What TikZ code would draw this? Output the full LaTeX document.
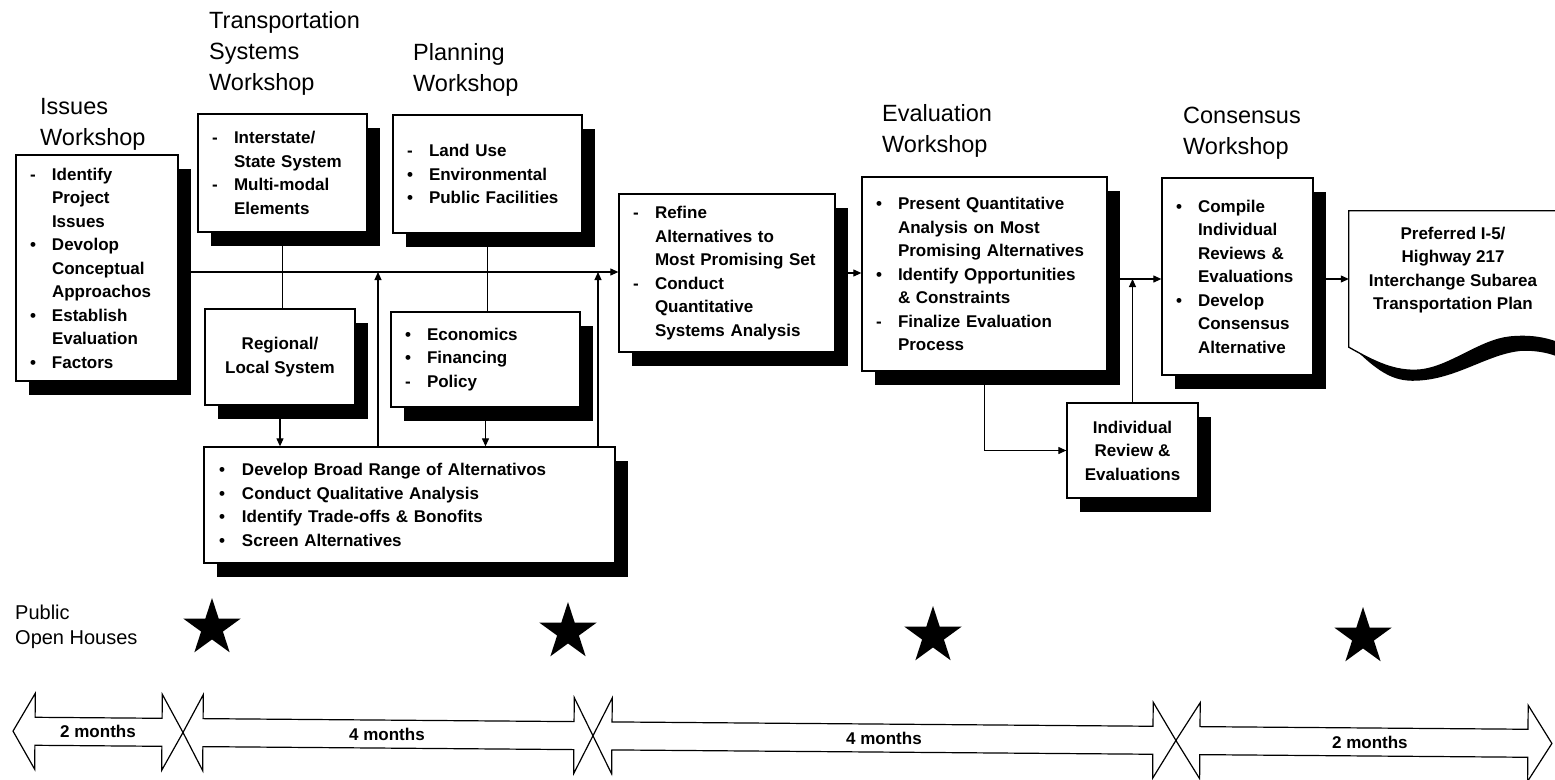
\documentclass[tikz,border=0pt]{standalone}
\usepackage{fontspec}
\setmainfont{Liberation Sans}
\usetikzlibrary{arrows.meta,shapes.geometric,shadows}
\newcommand\bul[1]{\makebox[22pt][l]{#1}}
\newcommand\bulw[1]{\makebox[23pt][l]{#1}}
\newcommand\indt{\hspace*{22pt}}
\newcommand\boxfont{\bfseries\fontsize{17}{23.5}\selectfont}
\newcommand\ttlfont{\fontsize{23.5}{31}\selectfont}
\newcommand\pubfont{\fontsize{20}{25}\selectfont}
\begin{document}
\begin{tikzpicture}[x=1pt,y=-1pt,
  box/.style={draw, line width=1.3pt, fill=white, inner sep=0pt, font=\boxfont,
    general shadow={fill=black, shadow xshift=13pt, shadow yshift=-14pt}},
  blist/.style={align=left},
  ctr/.style={align=center},
  ttl/.style={anchor=north west, inner sep=0pt, align=left, font=\ttlfont},
  conn/.style={line width=1.1pt},
  arr/.style={conn, -{Triangle[length=8pt,width=7pt]}},
  tl/.style={draw, line width=1.2pt, fill=white, line join=miter},
  tltext/.style={font=\boxfont, inner sep=0pt},
  star5/.style={star, star points=5, star point ratio=2.618, fill=black, draw=none, inner sep=0pt, minimum size=60pt},
]
\useasboundingbox (0,0) rectangle (1555,779);

% ---------- titles ----------
\node[ttl] (t1) at (40,98.6) {Issues\\Workshop};
\node[ttl] (t2) at (209,11.6) {Transportation\\Systems\\Workshop};
\node[ttl] (t3) at (413,43.6) {Planning\\Workshop};
\node[ttl] (t4) at (882,104.6) {Evaluation\\Workshop};
\node[ttl] (t5) at (1183,106.6) {Consensus\\Workshop};

% ---------- boxes ----------
\node[box, blist, minimum width=162, minimum height=226, text width=134] (issues) at (97,268)
 {\bul{-}Identify\\\indt Project\\\indt Issues\\\bul{•}Devolop\\\indt Conceptual\\\indt Approachos\\\bul{•}Establish\\\indt Evaluation\\\bul{•}Factors};
\node[box, blist, minimum width=169, minimum height=118, text width=141] (ts) at (282.5,173)
 {\bul{-}Interstate/\\\indt State System\\\bul{-}Multi-modal\\\indt Elements};
\node[box, blist, minimum width=189, minimum height=118, text width=161] (plan) at (487.5,174)
 {\bul{-}Land Use\\\bul{•}Environmental\\\bul{•}Public Facilities};
\node[box, ctr, minimum width=150, minimum height=96] (regional) at (280,357)
 {Regional/\\Local System};
\node[box, blist, minimum width=189, minimum height=95, text width=161] (econ) at (485.5,359.5)
 {\bul{•}Economics\\\bul{•}Financing\\\bul{-}Policy};
\node[box, blist, minimum width=411, minimum height=116, text width=381] (bottom) at (409.5,505)
 {\bulw{•}Develop Broad Range of Alternativos\\\bulw{•}Conduct Qualitative Analysis\\\bulw{•}Identify Trade-offs \& Bonofits\\\bulw{•}Screen Alternatives};
\node[box, blist, minimum width=216, minimum height=158, text width=188] (refine) at (727,273)
 {\bul{-}Refine\\\indt Alternatives to\\\indt Most Promising Set\\\bul{-}Conduct\\\indt Quantitative\\\indt Systems Analysis};
\node[box, blist, minimum width=245, minimum height=194, text width=217] (eval) at (984.5,274)
 {\bul{•}Present Quantitative\\\indt Analysis on Most\\\indt Promising Alternatives\\\bul{•}Identify Opportunities\\\indt \& Constraints\\\bul{-}Finalize Evaluation\\\indt Process};
\node[box, ctr, minimum width=131, minimum height=95] (ind) at (1132.5,450.5)
 {Individual\\Review \&\\Evaluations};
\node[box, blist, minimum width=151, minimum height=197, text width=123] (cons) at (1237.5,276.5)
 {\bul{•}Compile\\\indt Individual\\\indt Reviews \&\\\indt Evaluations\\\bul{•}Develop\\\indt Consensus\\\indt Alternative};

% ---------- preferred plan (document shape) ----------
\node[inner sep=0pt, minimum width=206, minimum height=136] (pref) at (1452,279) {};
\fill[black] (1358,352) .. controls (1385,378) and (1400,383) .. (1425,380)
  .. controls (1460,376) and (1490,354) .. (1520,351)
  .. controls (1535,350) and (1548,353) .. (1556,356) -- (1556,342)
  .. controls (1545,338) and (1530,335) .. (1510,337)
  .. controls (1480,340) and (1450,367) .. (1420,370)
  .. controls (1395,372) and (1375,362) .. (1349,347) -- cycle;
\draw[line width=1.3pt] (pref.north east) -- (pref.north west) -- (pref.south west)
  .. controls (1375,362) and (1395,372) .. (1420,370)
  .. controls (1450,367) and (1480,340) .. (1510,337)
  .. controls (1530,335) and (1545,338) .. (1556,342);
\node[font=\boxfont, align=center, inner sep=0pt] (preftxt) at (1453,270)
 {Preferred I-5/\\Highway 217\\Interchange Subarea\\Transportation Plan};

% ---------- connectors ----------
\coordinate (j1) at (378,272);
\coordinate (j2) at (598,272);
\coordinate (j3) at (1133,279);
\draw[arr] (issues.east |- j1) -- (refine.west |- j1);
\draw[conn] (ts.south) -- (ts.south |- regional.north);
\draw[conn] (plan.south) -- (plan.south |- econ.north);
\draw[arr] (regional.south) -- (regional.south |- bottom.north);
\draw[arr] (econ.south) -- (econ.south |- bottom.north);
\draw[arr] (bottom.north -| j1) -- (j1);
\draw[arr] (bottom.north -| j2) -- (j2);
\draw[arr] (refine.east) -- (eval.west |- refine.east);
\draw[arr] (eval.east |- j3) -- (cons.west |- j3);
\draw[arr] (eval.south) |- (ind.west);
\draw[arr] (ind.north) -- (ind.north |- j3);
\draw[arr] (cons.east |- pref.west) -- (pref.west);

% ---------- public open houses ----------
\node[anchor=north west, inner sep=0pt, align=left, font=\pubfont] (pub) at (15,604.8) {Public\\Open Houses};
\node[star5] (s1) at (212,628) {};
\node[star5] (s2) at (568,632) {};
\node[star5] (s3) at (933,636) {};
\node[star5] (s4) at (1363,637) {};

% ---------- timeline ----------
\newcommand\tlarrow[4]{%
 \draw[tl] (#1,731) -- (#2,693) -- (#2,717) -- (#3,717) -- (#3,693) -- (#4,731)
   -- (#3,769) -- (#3,745) -- (#2,745) -- (#2,769) -- cycle;}
\begin{scope}[rotate around={-0.46:(0,731)}]
 \tlarrow{13}{35}{162}{183}
 \tlarrow{183}{203}{574}{593}
 \tlarrow{593}{612}{1153}{1176}
 \tlarrow{1176}{1200}{1528}{1552}
 \node[tltext] (m1) at (98,731) {2 months};
 \node[tltext] (m2) at (387,731) {4 months};
 \node[tltext] (m3) at (884,731) {4 months};
 \node[tltext] (m4) at (1370,731) {2 months};
\end{scope}
\end{tikzpicture}
\end{document}
